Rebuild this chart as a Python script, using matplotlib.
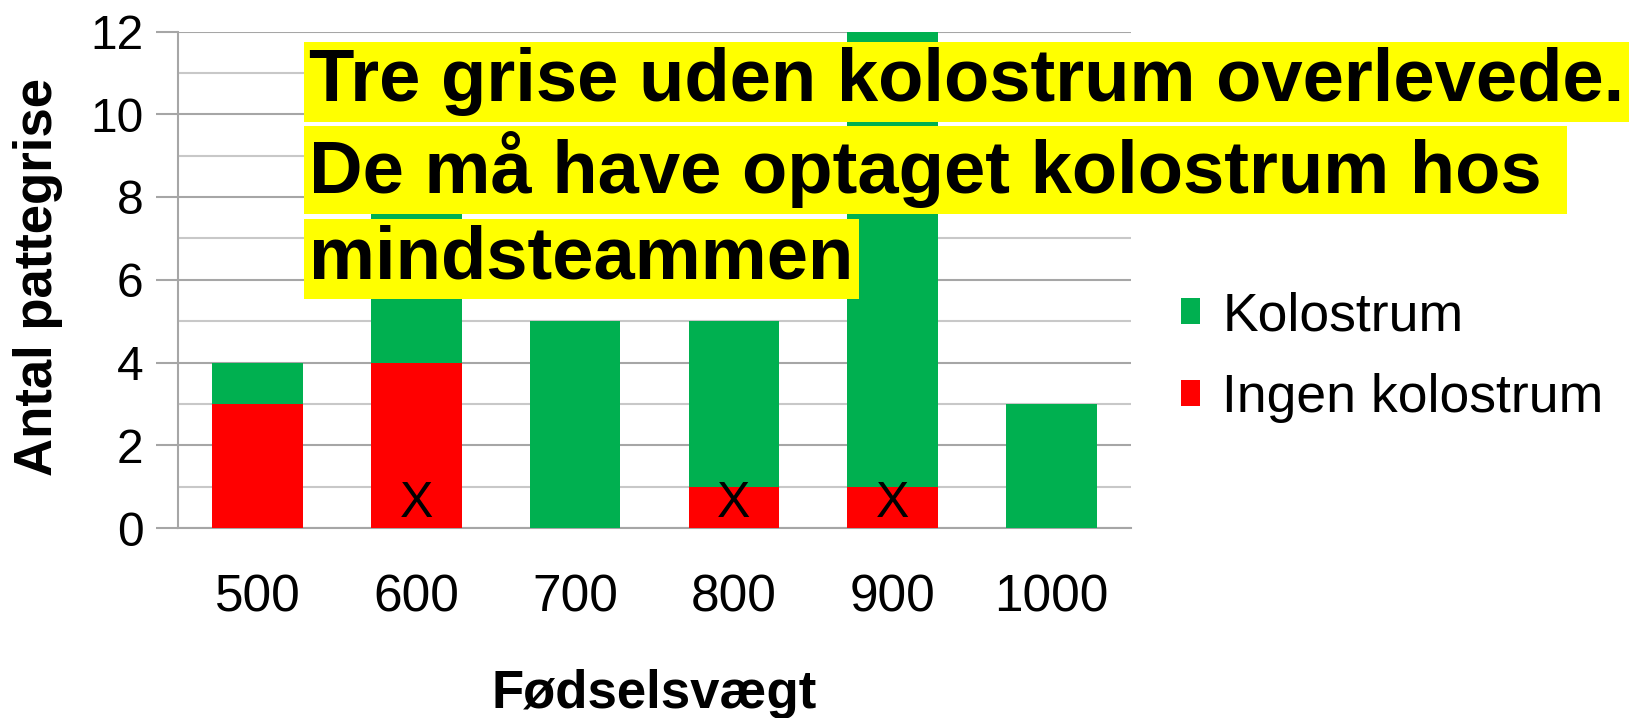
import matplotlib
matplotlib.use("Agg")
import matplotlib.pyplot as plt
import numpy as np
from matplotlib.patches import Patch

categories = ["500", "600", "700", "800", "900", "1000"]
ingen_kolostrum = [3, 4, 0, 1, 1, 0]
kolostrum = [1, 4, 5, 4, 11, 3]
dead_marks = ["600", "800", "900"]
y_ticks = [0, 2, 4, 6, 8, 10, 12]
note_lines = ["Tre grise uden kolostrum overlevede.",
              "De må have optaget kolostrum hos ",
              "mindsteammen"]

plt.rcParams['font.family'] = ['Liberation Sans', 'DejaVu Sans']

GREEN = "#00B050"
RED = "#FF0000"

fig = plt.figure(figsize=(16.46, 7.18), dpi=100)
ax = fig.add_axes([178/1646, 1-528/718, (1131-178)/1646, (528-31.5)/718])

x = np.arange(len(categories))
w = 0.57
ax.bar(x, ingen_kolostrum, width=w, color=RED, zorder=3)
ax.bar(x, kolostrum, width=w, bottom=ingen_kolostrum, color=GREEN, zorder=3)

for lab in dead_marks:
    i = categories.index(lab)
    ax.text(x[i], 0.58, "X", ha="center", va="center", fontsize=36, zorder=4)

ax.set_xlim(-0.5, len(categories) - 0.5)
ax.set_ylim(0, 12)
ax.set_yticks(y_ticks)
ax.set_yticks(np.arange(1, 12, 2), minor=True)
ax.yaxis.grid(True, which="major", color="#a6a6a6", linewidth=1.5, zorder=0)
ax.yaxis.grid(True, which="minor", color="#c8c8c8", linewidth=1.5, zorder=0)
ax.set_axisbelow(True)
for s in ["top", "right"]:
    ax.spines[s].set_visible(False)
ax.spines["left"].set_color("#a6a6a6")
ax.spines["left"].set_linewidth(1.5)
ax.spines["bottom"].set_color("#a6a6a6")
ax.spines["bottom"].set_linewidth(1.5)
ax.tick_params(axis="y", which="major", length=16, width=1.5, color="#a6a6a6",
               labelsize=34.5, pad=9)
ax.tick_params(axis="y", which="minor", length=0)
ax.set_xticks(x)
ax.set_xticklabels(categories)
ax.tick_params(axis="x", length=0, labelsize=37, pad=33)

ax.set_ylabel("Antal pattegrise", fontsize=38, fontweight="bold")
ax.yaxis.set_label_coords(-0.121, 0.505)
ax.set_xlabel("Fødselsvægt", fontsize=38, fontweight="bold")
ax.xaxis.set_label_coords(0.5, -0.283)

handles = [Patch(facecolor=GREEN, label="Kolostrum"),
           Patch(facecolor=RED, label="Ingen kolostrum")]
fig.legend(handles=handles, loc="center left", bbox_to_anchor=(0.7175, 0.5025),
           frameon=False, fontsize=38.5, handlelength=0.35, handleheight=0.35,
           handletextpad=0.42, labelspacing=0.6, borderpad=0, borderaxespad=0)

line_y = [82, 170, 259]
for txt, yy in zip(note_lines, line_y):
    fig.text(309/1646, 1 - yy/718, txt, fontsize=53.5, fontweight="bold",
             ha="left", va="center", zorder=10,
             bbox=dict(facecolor="#FFFF00", edgecolor="none",
                       boxstyle="square,pad=0.07"))

fig.savefig("out.png", dpi=100)
